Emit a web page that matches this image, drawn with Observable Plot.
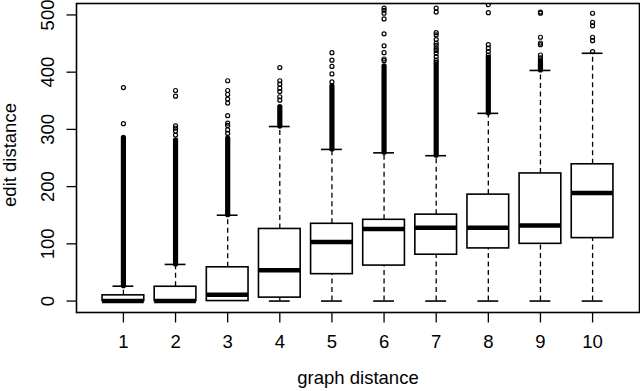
<!DOCTYPE html>
<html>
<head>
<meta charset="utf-8">
<script src="https://cdn.jsdelivr.net/npm/d3@7"></script>
<script src="https://cdn.jsdelivr.net/npm/@observablehq/plot@0.6"></script>
<style>
  html, body { margin: 0; padding: 0; background: #fff; }
  svg { display: block; }
</style>
</head>
<body>
<div id="chart"></div>
<script>
// ---- data ----
const categories = [1, 2, 3, 4, 5, 6, 7, 8, 9, 10];
const q1        = [0, 0, 0, 6, 47, 62, 81, 92, 100, 110];
const medians   = [0, 0, 11, 54, 103, 126, 128, 128, 132, 189];
const q3        = [10, 25, 59, 126, 135, 142, 151, 186, 223, 239];
const whiskerLo = [0, 0, 0, 0, 0, 0, 0, 0, 0, 0];
const whiskerHi = [26, 64, 150, 305, 265, 259, 254, 328, 403, 433];
// top of the run of outliers so dense that they merge into a solid column
const denseTop  = [285, 281, 284, 339, 375, 410, 413, 425, 417, null];
// individually visible outliers
const outliers = [
  [310, 373],
  [290, 297, 302, 306, 358, 368],
  [293, 299, 307, 311, 324, 346, 353, 361, 368, 385],
  [351, 357, 366, 372, 379, 385, 408],
  [383, 397, 410, 421, 434],
  [420, 423, 434, 446, 467, 493, 503, 508, 512],
  [417, 421, 427, 433, 438, 442, 447, 451, 457, 465, 469, 505, 512],
  [430, 436, 442, 448, 504, 518],
  [421, 425, 430, 448, 451, 461, 503, 505],
  [436, 455, 461, 481, 487, 503]
];
const yTicks = [0, 100, 200, 300, 400, 500];
const xLabel = "graph distance";
const yLabel = "edit distance";

// ---- tables built from the arrays ----
const boxes = categories.map((c, i) => ({
  cat: c, q1: q1[i], med: medians[i], q3: q3[i],
  lo: whiskerLo[i], hi: whiskerHi[i], dense: denseTop[i]
}));
const dense = boxes.filter(d => d.dense != null);
const pts = categories.flatMap((c, i) => outliers[i].map(v => ({cat: c, v})));

const FONT = "'Liberation Sans', Arial, Helvetica, sans-serif";
const FS = 18.5;

const chart = Plot.plot({
  width: 640,
  height: 391,
  marginLeft: 76,
  marginRight: 1,
  marginTop: 3,
  marginBottom: 79,
  style: {fontFamily: FONT, fontSize: FS + "px", color: "black", background: "white"},
  x: {type: "linear", domain: [0.1, 10.9], label: null},
  y: {domain: [-20, 520], label: null},
  marks: [
    // dense outlier columns
    Plot.ruleX(dense, {x: "cat", y1: "hi", y2: "dense", stroke: "black",
      strokeWidth: 5.2, strokeLinecap: "round", clip: true}),
    // whiskers (dashed)
    Plot.ruleX(boxes, {x: "cat", y1: "q3", y2: "hi", stroke: "black",
      strokeWidth: 1.3, strokeDasharray: "5,3.5"}),
    Plot.ruleX(boxes.filter(d => d.q1 > d.lo), {x: "cat", y1: "lo", y2: "q1", stroke: "black",
      strokeWidth: 1.3, strokeDasharray: "5,3.5"}),
    // staples
    Plot.ruleY(boxes, {y: "hi", x1: d => d.cat - 0.2, x2: d => d.cat + 0.2,
      stroke: "black", strokeWidth: 1.6}),
    Plot.ruleY(boxes.filter(d => d.q1 > d.lo), {y: "lo", x1: d => d.cat - 0.2, x2: d => d.cat + 0.2,
      stroke: "black", strokeWidth: 1.6}),
    // boxes
    Plot.rect(boxes, {x1: d => d.cat - 0.4, x2: d => d.cat + 0.4, y1: "q1", y2: "q3",
      fill: "white", stroke: "black", strokeWidth: 1.6}),
    // medians
    Plot.ruleY(boxes, {y: "med", x1: d => d.cat - 0.4, x2: d => d.cat + 0.4,
      stroke: "black", strokeWidth: 4.5}),
    // outlier points
    Plot.dot(pts, {x: "cat", y: "v", r: 2, stroke: "black", strokeWidth: 1.2,
      fill: "none", clip: true}),
    // frame
    Plot.frame({stroke: "black", strokeWidth: 1.6}),
    // axes ticks
    Plot.axisY({ticks: yTicks, tickSize: 9.5, tickFormat: () => "", label: null, strokeWidth: 1.3}),
    Plot.axisX({ticks: categories, tickSize: 10.5, tickFormat: () => "", label: null, strokeWidth: 1.3}),
    // tick labels
    Plot.text(yTicks, {y: d => d, text: d => String(d), frameAnchor: "left", dx: -28.7,
      rotate: -90, textAnchor: "middle", lineAnchor: "middle", fill: "black"}),
    Plot.text(categories, {x: d => d, text: d => String(d), frameAnchor: "bottom", dy: 29.8,
      textAnchor: "middle", lineAnchor: "middle", fill: "black"}),
    // axis titles
    Plot.text([xLabel], {text: d => d, frameAnchor: "bottom", dy: 65.6,
      textAnchor: "middle", lineAnchor: "middle", fill: "black"}),
    Plot.text([yLabel], {text: d => d, frameAnchor: "left", dx: -66, dy: -3,
      rotate: -90, textAnchor: "middle", lineAnchor: "middle", fill: "black"})
  ]
});
document.getElementById("chart").appendChild(chart);
</script>
</body>
</html>
